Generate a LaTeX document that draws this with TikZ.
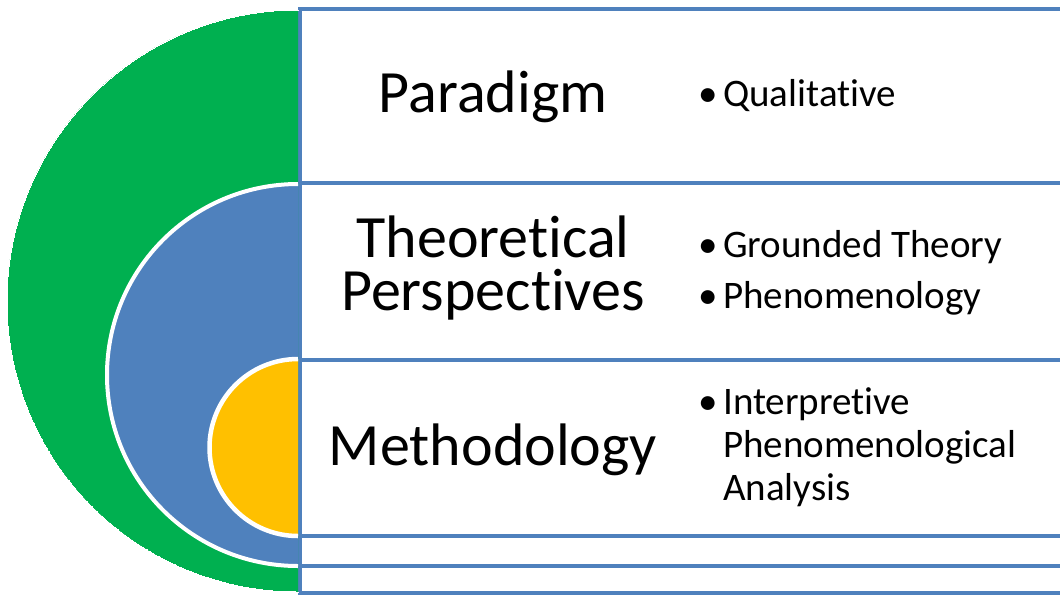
\documentclass[tikz,border=0pt]{standalone}
\usepackage{fontspec}
\setmainfont{Carlito}[Ligatures={NoCommon}]
\usepackage{tikz}
\usetikzlibrary{calc}
\definecolor{tgtgreen}{RGB}{0,176,80}
\definecolor{tgtblue}{RGB}{79,129,189}
\definecolor{tgtyellow}{RGB}{255,192,0}
\def\halfdisc[#1](#2)(#3:#4){\fill[#1] ($(#2)+(0,-#3)$) arc (270:90:#3) -- cycle;
	\draw[white, line width=#4] ($(#2)+(0,-#3)$) arc (270:90:#3);}
\newcommand{\bul}{\llap{\textbullet\hspace{5pt}}}

\begin{document}
\begin{tikzpicture}[x=1pt, y=-1pt,
		box/.style={draw=tgtblue, line width=4pt, fill=white},
		heading/.style={font=\fontsize{60}{53}\selectfont, inner sep=0pt, align=center, anchor=base},
		item/.style={font=\fontsize{39}{43}\selectfont, inner sep=0pt, align=left, anchor=base west}]
		%%%%% START %%%%%
		\useasboundingbox (0, 0) rectangle (1060, 595);
		
		\draw[box] (300, 8.5) rectangle (1068, 593);
		\draw[box] (300, 183) rectangle (1068, 565.5);
		\draw[box] (300, 360) rectangle (1068, 536);
		
		\halfdisc[tgtgreen](298, 301)(291:0pt)
		\halfdisc[tgtblue](298, 375)(191:4pt)
		\halfdisc[tgtyellow](298, 447.5)(88.5:4.5pt)
		
		% base anchor sits on the last line
		\node[heading] (paradigm) at (493, 112) {Paradigm};
		\node[heading] (theory) at (493, 310) {Theoretical\\Perspectives};
		\node[heading] (method) at (493, 465) {Methodology};
		
		\node[item] (qual) at (723, 106) {\bul Qualitative};
		\node[item] (grounded) at (723, 257) {\bul Grounded Theory};
		\node[item] (phenom) at (723, 308) {\bul Phenomenology};
		\node[item] (ipa) at (723, 500) {\bul Interpretive\\Phenomenological\\Analysis};
		
		%%%%% END %%%%%
	\end{tikzpicture}
\end{document}
